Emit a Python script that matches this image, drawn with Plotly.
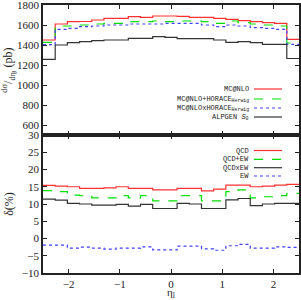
import numpy as np
import plotly.graph_objects as go

n_bins = 21
eta_min, eta_max = -2.5, 2.5
edges = np.linspace(eta_min, eta_max, n_bins + 1)

# top panel: d sigma / d eta (pb)
mcnlo = [1450, 1610, 1633, 1635, 1650, 1667, 1667, 1683, 1677, 1690, 1690,
         1687, 1677, 1677, 1667, 1657, 1643, 1633, 1623, 1617, 1457]
mcnlo_plus_horace = [1427, 1590, 1590, 1600, 1610, 1617, 1617, 1633, 1633, 1640, 1633,
                     1640, 1640, 1633, 1617, 1640, 1623, 1610, 1600, 1590, 1420]
mcnlo_times_horace = [1403, 1557, 1567, 1583, 1590, 1600, 1600, 1610, 1610, 1610, 1617,
                      1617, 1617, 1600, 1583, 1600, 1590, 1573, 1567, 1557, 1407]
alpgen = [1257, 1400, 1423, 1433, 1443, 1450, 1450, 1467, 1467, 1483, 1477,
          1463, 1463, 1463, 1450, 1427, 1433, 1423, 1407, 1407, 1265]

# bottom panel: delta (%)
qcd = [15.4, 15.2, 15.0, 14.5, 14.5, 14.7, 15.0, 14.5, 14.5, 14.1, 14.1,
       14.5, 14.5, 13.8, 14.3, 15.5, 15.5, 15.0, 15.2, 15.5, 15.7]
qcd_plus_ew = [13.9, 13.6, 12.6, 12.4, 11.8, 11.8, 12.4, 11.8, 12.4, 10.9, 10.9,
               12.4, 12.4, 10.9, 10.9, 13.6, 14.1, 11.8, 12.1, 12.4, 13.1]
qcd_times_ew = [11.4, 11.1, 10.2, 10.0, 9.7, 9.7, 9.9, 9.4, 9.9, 8.7, 8.7,
                10.2, 10.0, 8.7, 8.7, 11.2, 11.6, 9.5, 10.0, 10.2, 10.2]
ew = [-1.9, -1.9, -2.8, -2.5, -2.8, -3.1, -2.8, -2.8, -2.4, -3.3, -3.3,
      -2.2, -2.2, -3.0, -3.4, -2.1, -1.7, -2.8, -2.8, -2.4, -2.6]

x_ticks = [-2, -1, 0, 1, 2]
top_ticks = [600, 800, 1000, 1200, 1400, 1600, 1800]
bot_ticks = [-10, -5, 0, 5, 10, 15, 20, 25, 30]

top_series = [
    ("MC@NLO", mcnlo, "#ff3030", "solid"),
    ("MC@NLO+HORACE<sub>Herwig</sub>", mcnlo_plus_horace, "#00e000", "dash"),
    ("MC@NLOxHORACE<sub>Herwig</sub>", mcnlo_times_horace, "#4040ff", "dot"),
    ("ALPGEN <i>S</i><sub>0</sub>", alpgen, "#333333", "solid"),
]
bot_series = [
    ("QCD", qcd, "#ff3030", "solid"),
    ("QCD+EW", qcd_plus_ew, "#00e000", "dash"),
    ("QCDxEW", qcd_times_ew, "#333333", "solid"),
    ("EW", ew, "#4040ff", "dot"),
]

W, H = 301, 300
ML, MR, MT, MB = 43, 2, 5, 27
PW, PH = W - ML - MR, H - MT - MB
def px_x(x):
    return (x - ML) / PW
def px_y(y):
    return 1 - (y - MT) / PH

def step(vals):
    return list(edges), list(vals) + [vals[-1]]

fig = go.Figure()
for name, vals, col, dash in top_series:
    xs, ys = step(vals)
    fig.add_trace(go.Scatter(x=xs, y=ys, mode="lines", line_shape="hv", name=name,
                             line=dict(color=col, width=1.2, dash=dash),
                             xaxis="x2", yaxis="y2", showlegend=False))
for name, vals, col, dash in bot_series:
    xs, ys = step(vals)
    fig.add_trace(go.Scatter(x=xs, y=ys, mode="lines", line_shape="hv", name=name,
                             line=dict(color=col, width=1.2, dash=dash),
                             xaxis="x", yaxis="y", showlegend=False))

# legends drawn gnuplot-style: text on the left, line sample on the right
leg_font = dict(family="Liberation Mono", size=7, color="#222")
annotations = []
shapes = []
for rows, series in (([89, 99, 108, 117], top_series), ([150.5, 159.3, 167.7, 176], bot_series)):
    for ry, (name, vals, col, dash) in zip(rows, series):
        annotations.append(dict(text=name, xref="paper", yref="paper", x=px_x(251), y=px_y(ry),
                                xanchor="right", yanchor="middle", showarrow=False, font=leg_font))
        shapes.append(dict(type="line", xref="paper", yref="paper", x0=px_x(254), x1=px_x(282),
                           y0=px_y(ry), y1=px_y(ry), line=dict(color=col, width=1.2, dash=dash)))

font = dict(family="Liberation Serif", size=11, color="#222")
annotations.append(dict(text="η<sub>l</sub>", xref="x", yref="paper", x=0, y=px_y(293),
                        xanchor="center", yanchor="middle", showarrow=False,
                        font=dict(family="Liberation Serif", size=11, color="#222")))

split = 138 / PH
axcommon = dict(showline=True, linecolor="#222", linewidth=1.5, mirror="ticks",
                ticks="inside", ticklen=4, tickcolor="#222", showgrid=False,
                zeroline=False, tickfont=font, automargin=False, ticklabeloverflow="allow")
title_font = dict(family="Liberation Serif", size=12, color="#222")
fig.update_layout(
    width=W, height=H,
    margin=dict(l=ML, r=MR, t=MT, b=MB, autoexpand=False),
    paper_bgcolor="white", plot_bgcolor="white",
    font=font,
    showlegend=False,
    xaxis=dict(range=[eta_min, eta_max], tickvals=x_ticks, anchor="y", **axcommon),
    yaxis=dict(range=[-10, 30], tickvals=bot_ticks, domain=[0, split], anchor="x",
               title=dict(text="δ(%)", standoff=6, font=title_font), **axcommon),
    xaxis2=dict(range=[eta_min, eta_max], tickvals=x_ticks, showticklabels=False,
                anchor="y2", matches="x", **axcommon),
    yaxis2=dict(range=[500, 1800], tickvals=top_ticks, domain=[split, 1], anchor="x2",
                title=dict(text="<sup>dσ</sup>/<sub>dη<sub>l</sub></sub> (pb)", standoff=4,
                           font=title_font),
                **axcommon),
    annotations=annotations,
    shapes=shapes,
)
fig.write_html("out.html", config={"displayModeBar": False},
               post_script="document.body.style.margin='0';document.body.style.padding='0';")
